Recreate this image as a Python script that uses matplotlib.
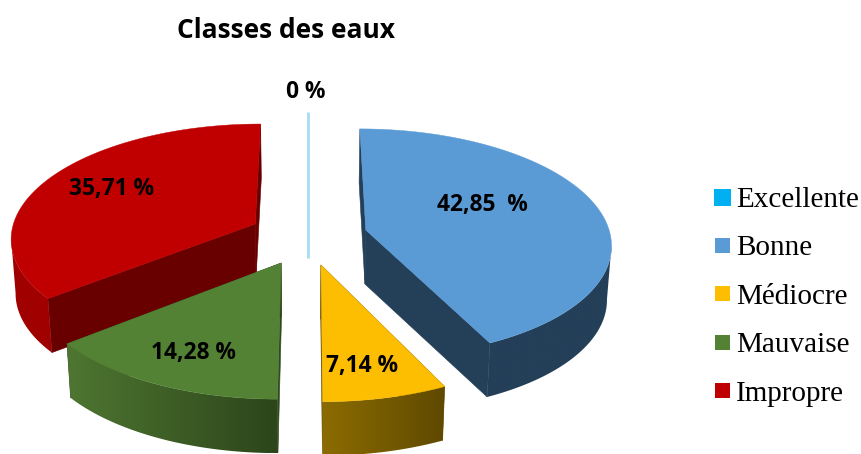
import numpy as np
from matplotlib import pyplot as plt
from matplotlib.colors import LinearSegmentedColormap
from matplotlib.patches import Polygon, Rectangle

# chart data
categories = ['Excellente', 'Bonne', 'Médiocre', 'Mauvaise', 'Impropre']
values = [0, 42.85, 7.14, 14.28, 35.71]
value_labels = ['0 %', '42,85  %', '7,14 %', '14,28 %', '35,71 %']

# colours for each slice
top_colors = ['#00B0F0', '#5B9BD5', '#FDBD00', '#548235', '#C00000']
cut_colors = ['#00B0F0', '#243F58', '#6B5000', '#2F4A1E', '#690000']
side_left = ['#00B0F0', '#243F58', '#8C6C00', '#4E7631', '#A00000']
side_right = ['#00B0F0', '#243F58', '#5F4900', '#2C451A', '#A00000']

# exploded position of each slice on the pie plane, and its radius
offset_x = [0.0, 0.2374, 0.0514, -0.107, -0.218]
offset_v = [0.11, -0.131, 0.169, 0.1525, -0.185]
radius = [1.43, 1, 1, 1, 1]

# the fake 3d view
cx, cy = 308, 245
rx, ry = 247, 116
persp = 0.115
depth = 54
shrink = 0.985


def project(x, v):
    den = 1 - persp * v
    return cx + rx * x / den, cy + ry * v / den


def lower(px, py):
    return cx + (px - cx) * shrink, py + depth


fig = plt.figure(figsize=(8.62, 4.54), dpi=100)
ax = fig.add_axes([0, 0, 1, 1])

# angles clockwise from the top
edges = np.cumsum([0] + values) / sum(values) * 2 * np.pi
z = 1


def draw_slice(i):
    global z
    t = np.linspace(edges[i], edges[i + 1], 200)
    px, py = project(offset_x[i] + radius[i] * np.sin(t), offset_v[i] - radius[i] * np.cos(t))
    ax_, ay_ = project(offset_x[i], offset_v[i])

    # both cut faces
    for ex, ey in [(px[0], py[0]), (px[-1], py[-1])]:
        lx0, ly0 = lower(ax_, ay_)
        lx1, ly1 = lower(ex, ey)
        ax.add_patch(Polygon([(ax_, ay_), (ex, ey), (lx1, ly1), (lx0, ly0)],
                             fc=cut_colors[i], ec=cut_colors[i], lw=0.4, zorder=z))
    z += 1

    # outer wall with a left to right gradient, front part of the arc only
    start = np.argmax(px) if t[0] < np.pi / 2 else 0
    stop = np.argmin(px) + 1 if t[-1] > 1.5 * np.pi else len(t)
    wx, wy = px[start:stop], py[start:stop]
    lx, ly = lower(wx, wy)
    wall = Polygon(np.column_stack([np.r_[wx, lx[::-1]], np.r_[wy, ly[::-1]]]),
                   fc='none', ec='none', transform=ax.transData)
    cmap = LinearSegmentedColormap.from_list('wall', [side_left[i], side_right[i]])
    im = ax.imshow(np.linspace(0, 1, 256).reshape(1, -1), cmap=cmap, aspect='auto', zorder=z,
                   extent=(min(wx.min(), lx.min()), max(wx.max(), lx.max()), ly.max(), wy.min()))
    im.set_clip_path(wall)
    z += 1

    # top
    ax.add_patch(Polygon(np.column_stack([np.r_[ax_, px], np.r_[ay_, py]]),
                         fc=top_colors[i], ec=top_colors[i], lw=0.3, zorder=z))
    z += 1


# back slices first
for i in [4, 1, 3, 2]:
    draw_slice(i)

# the zero slice is only a thin line
x0, y0 = project(offset_x[0], offset_v[0])
x1, y1 = project(offset_x[0], offset_v[0] - radius[0])
ax.plot([x0, x1], [y0, y1], color='#A6DDF6', lw=2, solid_capstyle='butt', zorder=z)

ax.set_xlim(0, 862)
ax.set_ylim(454, 0)
ax.axis('off')

# texts
label_font = dict(family='Open Sans', fontweight='bold', fontsize=16.4, ha='center', va='center', zorder=50)
label_pos = [(306, 92), (482, 205), (362, 366), (194, 353), (112, 189)]
for lab, (lx, ly) in zip(value_labels, label_pos):
    ax.text(lx, ly, lab, **label_font)

ax.text(286, 30, 'Classes des eaux', family='Open Sans', fontweight='bold', fontsize=19,
        ha='center', va='center')

# legend
for i, name in enumerate(categories):
    ly = 197 + 48.4 * i
    size = 17 if i == 0 else 15
    ax.add_patch(Rectangle((722.5 - size / 2, ly - size / 2), size, size, fc=top_colors[i], ec='none'))
    ax.text(736, ly + 3, name, family='Liberation Serif', fontsize=21, ha='left', va='center')

plt.savefig('out.png', dpi=100)
